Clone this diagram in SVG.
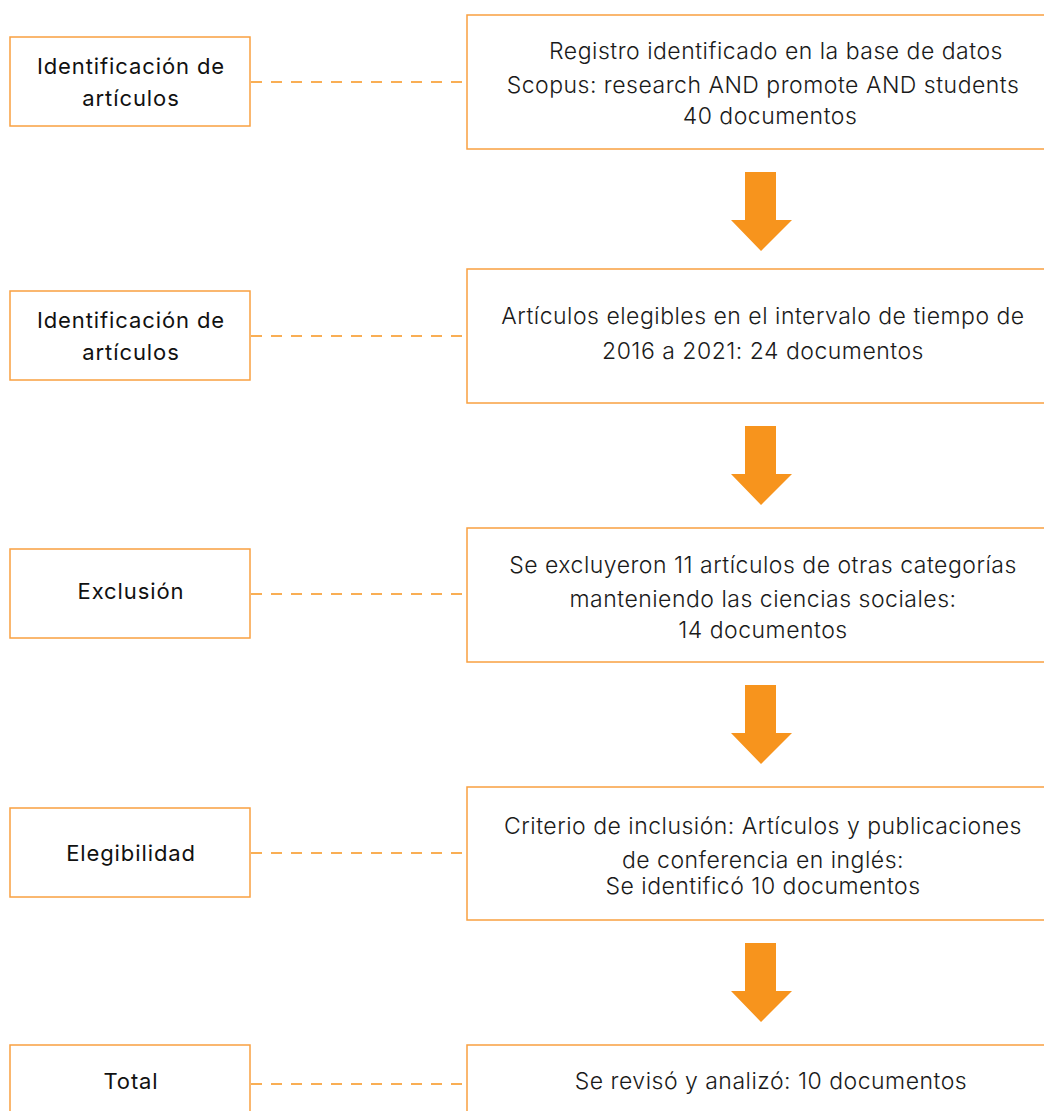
<svg xmlns="http://www.w3.org/2000/svg" width="1044" height="1111" viewBox="0 0 1044 1111">
<style>
.box{fill:#fff;stroke:#F9A040;stroke-width:1.5}
.lt{font-family:Inter,"Noto Sans",sans-serif;font-size:22px;font-weight:400;letter-spacing:0.9px;fill:#111;text-anchor:middle}
.rt{font-family:Inter,"Noto Sans",sans-serif;font-size:23px;font-weight:300;letter-spacing:0.5px;fill:#1a1a1a;text-anchor:middle}
.dash{stroke:#F7941D;stroke-width:1.5;stroke-dasharray:11 9;fill:none}
.arr{fill:#F7941D}
</style>
<rect width="1044" height="1111" fill="#fff"/>
<g id="connectors">
<line class="dash" x1="251" y1="82" x2="467" y2="82"/>
<line class="dash" x1="251" y1="336" x2="467" y2="336"/>
<line class="dash" x1="251" y1="594" x2="467" y2="594"/>
<line class="dash" x1="251" y1="853" x2="467" y2="853"/>
<line class="dash" x1="251" y1="1084" x2="467" y2="1084"/>
<polygon class="arr" points="745,172 776,172 776,220 792,220 761,251 731,220 745,220"/>
<polygon class="arr" points="745,426 776,426 776,474 792,474 761,505 731,474 745,474"/>
<polygon class="arr" points="745,685 776,685 776,733 792,733 761,764 731,733 745,733"/>
<polygon class="arr" points="745,943 776,943 776,991 792,991 761,1022 731,991 745,991"/>
</g>
<g id="l1"><rect class="box" x="10" y="37" width="240" height="89"/>
<text class="lt" x="131" y="74">Identificación de</text><text class="lt" x="131" y="106">artículos</text></g>
<g id="r1"><rect class="box" x="467" y="15" width="620" height="134"/>
<text class="rt" x="776" y="59">Registro identificado en la base de datos</text>
<text class="rt" x="763" y="93">Scopus: research AND promote AND students</text>
<text class="rt" x="770" y="124">40 documentos</text></g>
<g id="l2"><rect class="box" x="10" y="291" width="240" height="89"/>
<text class="lt" x="131" y="328">Identificación de</text><text class="lt" x="131" y="360">artículos</text></g>
<g id="r2"><rect class="box" x="467" y="269" width="620" height="134"/>
<text class="rt" x="763" y="324">Artículos elegibles en el intervalo de tiempo de</text>
<text class="rt" x="763" y="359">2016 a 2021: 24 documentos</text></g>
<g id="l3"><rect class="box" x="10" y="549" width="240" height="89"/>
<text class="lt" x="131" y="599">Exclusión</text></g>
<g id="r3"><rect class="box" x="467" y="528" width="620" height="134"/>
<text class="rt" x="763" y="573">Se excluyeron 11 artículos de otras categorías</text>
<text class="rt" x="763" y="607">manteniendo las ciencias sociales:</text>
<text class="rt" x="763" y="638">14 documentos</text></g>
<g id="l4"><rect class="box" x="10" y="808" width="240" height="89"/>
<text class="lt" x="131" y="861">Elegibilidad</text></g>
<g id="r4"><rect class="box" x="467" y="787" width="620" height="133"/>
<text class="rt" x="763" y="834">Criterio de inclusión: Artículos y publicaciones</text>
<text class="rt" x="763" y="868">de conferencia en inglés:</text>
<text class="rt" x="763" y="894">Se identificó 10 documentos</text></g>
<g id="l5"><rect class="box" x="10" y="1045" width="240" height="89"/>
<text class="lt" x="131" y="1089">Total</text></g>
<g id="r5"><rect class="box" x="467" y="1045" width="620" height="134"/>
<text class="rt" x="771" y="1089">Se revisó y analizó: 10 documentos</text></g>
</svg>
